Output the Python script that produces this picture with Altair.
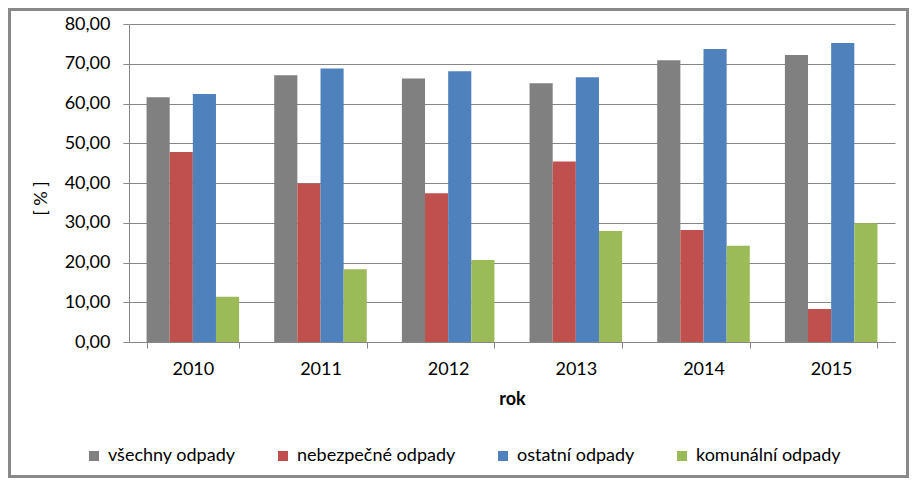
import altair as alt
import pandas as pd

years = ["2010", "2011", "2012", "2013", "2014", "2015"]
series = ["všechny odpady", "nebezpečné odpady", "ostatní odpady", "komunální odpady"]
colors = ["#808080", "#C0504D", "#4F81BD", "#9BBB59"]

vsechny = [61.6, 67.1, 66.3, 65.1, 70.9, 72.2]
nebezpecne = [47.8, 39.9, 37.4, 45.4, 28.2, 8.3]
ostatni = [62.4, 68.8, 68.1, 66.6, 73.7, 75.2]
komunalni = [11.4, 18.3, 20.6, 27.9, 24.2, 29.9]

y_ticks = [0, 10, 20, 30, 40, 50, 60, 70, 80]

rows = []
for i, yr in enumerate(years):
    for s, vals in zip(series, [vsechny, nebezpecne, ostatni, komunalni]):
        rows.append({"rok": yr, "serie": s, "hodnota": vals[i]})
df = pd.DataFrame(rows)

FONT = "Lato"

bars = alt.Chart(df).mark_bar().encode(
    x=alt.X(
        "rok:N",
        title="rok",
        sort=years,
        scale=alt.Scale(paddingInner=0.275, paddingOuter=0.1375),
        axis=alt.Axis(
            labelAngle=0,
            labelFontSize=18,
            labelColor="#000000",
            labelPadding=12,
            tickBand="extent",
            tickSize=6,
            tickColor="#868686",
            domainColor="#868686",
            grid=False,
            titleFontSize=18,
            titleFontWeight="bold",
            titleColor="#000000",
            titlePadding=12,
        ),
    ),
    xOffset=alt.XOffset("serie:N", sort=series, scale=alt.Scale(paddingInner=0, paddingOuter=0)),
    y=alt.Y(
        "hodnota:Q",
        title="[ % ]",
        scale=alt.Scale(domain=[0, 80], nice=False),
        axis=alt.Axis(
            values=y_ticks,
            labelExpr="replace(format(datum.value, '.2f'), '.', ',')",
            labelFontSize=18,
            labelColor="#000000",
            labelPadding=13,
            tickSize=6,
            tickColor="#868686",
            domainColor="#868686",
            gridColor="#868686",
            titleFontSize=18,
            titleFontWeight="normal",
            titleColor="#000000",
            titleAngle=-90,
            titleX=-88,
            titleY=174,
            titleAlign="center",
            titleBaseline="middle",
        ),
    ),
    color=alt.Color(
        "serie:N",
        sort=series,
        scale=alt.Scale(domain=series, range=colors),
        legend=alt.Legend(
            title=None,
            orient="none",
            legendX=-44,
            legendY=423,
            direction="horizontal",
            columns=4,
            columnPadding=38,
            symbolType="square",
            symbolSize=100,
            symbolStrokeWidth=0,
            labelOffset=5,
            labelFontSize=18,
            labelColor="#000000",
        ),
    ),
)

border = alt.Chart(pd.DataFrame({"a": [0]})).mark_rect(
    fill="white", fillOpacity=0, stroke="#898989", strokeWidth=3
).encode(
    x=alt.value(-119.5), x2=alt.value(766 + 12.5),
    y=alt.value(-14.5), y2=alt.value(318 + 134.5),
)

chart = alt.layer(border, bars).properties(
    width=766,
    height=318,
    padding={"left": 121, "top": 16, "right": 14, "bottom": 136},
    autosize=alt.AutoSizeParams(type="none"),
).configure(font=FONT, background="white").configure_view(strokeWidth=0)

chart.save("out.html", embed_options={"renderer": "svg", "actions": False})
